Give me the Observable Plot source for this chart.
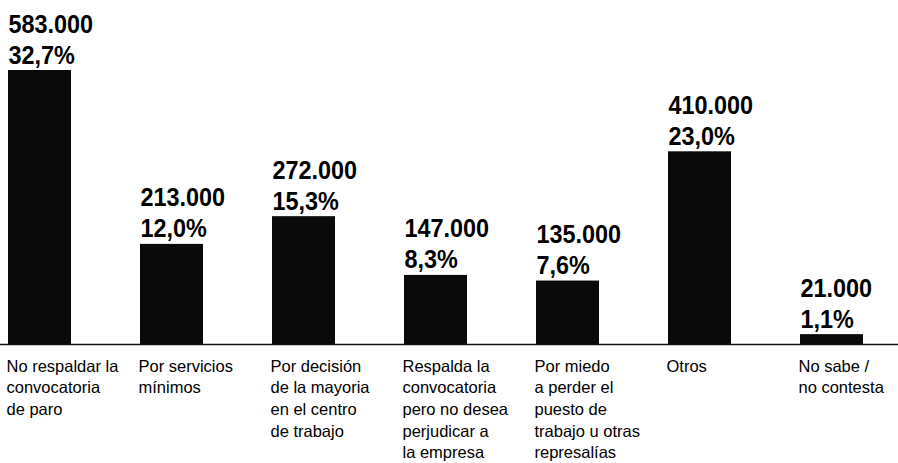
<!DOCTYPE html>
<html>
<head>
<meta charset="utf-8">
<script src="https://cdn.jsdelivr.net/npm/d3@7"></script>
<script src="https://cdn.jsdelivr.net/npm/@observablehq/plot@0.6"></script>
<style>
  html, body { margin: 0; padding: 0; background: #fff; }
  #chart svg { display: block; }
</style>
</head>
<body>
<div id="chart"></div>
<script>
const categories = [
  "No respaldar la\nconvocatoria\nde paro",
  "Por servicios\nmínimos",
  "Por decisión\nde la mayoria\nen el centro\nde trabajo",
  "Respalda la\nconvocatoria\npero no desea\nperjudicar a\nla empresa",
  "Por miedo\na perder el\npuesto de\ntrabajo u otras\nrepresalías",
  "Otros",
  "No sabe /\nno contesta"
];
const values = [583000, 213000, 272000, 147000, 135000, 410000, 21000];
const valueLabels = ["583.000", "213.000", "272.000", "147.000", "135.000", "410.000", "21.000"];
const pctLabels = ["32,7%", "12,0%", "15,3%", "8,3%", "7,6%", "23,0%", "1,1%"];

const data = categories.map((c, i) => ({
  cat: c, value: values[i], label: valueLabels[i] + "\n" + pctLabels[i]
}));

const W = 898, H = 463;
const xRange = [6, 864];
const padIn = 0.5245;
const bw = (xRange[1] - xRange[0]) * (1 - padIn) / (categories.length - padIn);

const chart = Plot.plot({
  width: W, height: H,
  marginTop: 70, marginBottom: 119, marginLeft: 0, marginRight: 0,
  style: { fontFamily: "'Liberation Sans', Arial, sans-serif", background: "#fff", color: "#000" },
  x: { type: "band", domain: categories, range: xRange, paddingInner: padIn, paddingOuter: 0, axis: null },
  y: { domain: [0, 583000], axis: null },
  marks: [
    Plot.barY(data, { x: "cat", y: "value", fill: "#0a0a0a" }),
    Plot.ruleY([0], { stroke: "#111", strokeWidth: 1.5 }),
    Plot.text(data, {
      x: "cat", y: "value", text: "label", className: "vlabel",
      textAnchor: "start", lineAnchor: "bottom", dx: -bw / 2, dy: -7,
      fontSize: 26, fontWeight: "bold", lineHeight: 1.19, fill: "#000"
    }),
    Plot.text(data, {
      x: "cat", y: () => 0, text: "cat",
      textAnchor: "start", lineAnchor: "top", dx: -bw / 2 - 2, dy: 12,
      fontSize: 16.5, lineHeight: 1.31, fill: "#000"
    })
  ]
});
// horizontally condense the bold value labels like the original's narrow typeface
chart.querySelectorAll("g.vlabel text").forEach(t => {
  const tr = t.getAttribute("transform") || "";
  t.setAttribute("transform", tr + " scale(0.9,1)");
});
document.getElementById("chart").appendChild(chart);
</script>
</body>
</html>
